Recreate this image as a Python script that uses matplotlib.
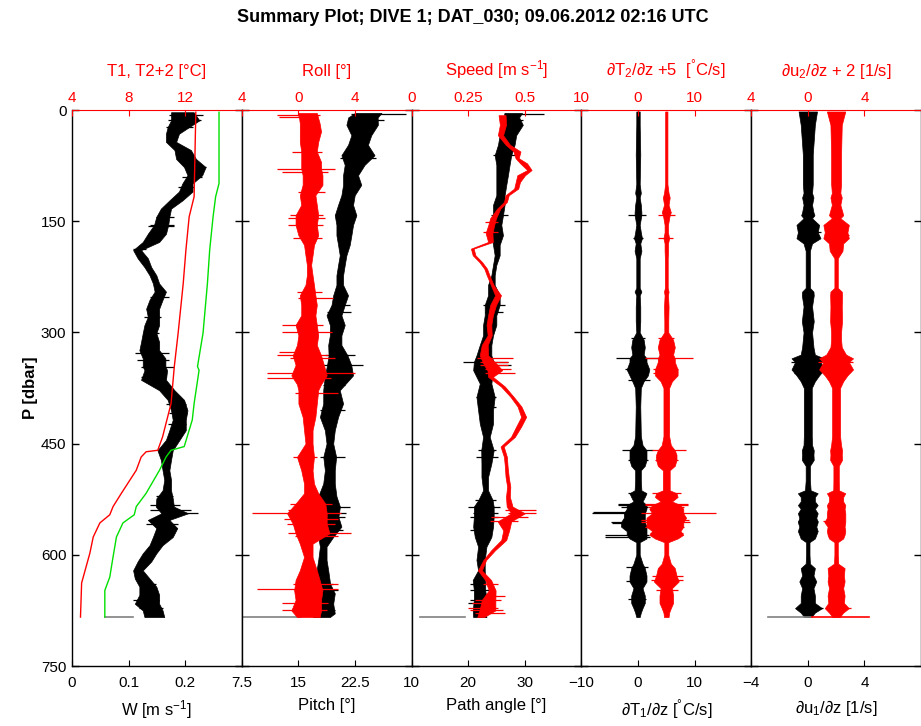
import matplotlib
matplotlib.use('Agg')
import matplotlib.pyplot as plt

plt.rcParams['font.family'] = ['Liberation Sans', 'DejaVu Sans']
plt.rcParams['mathtext.fontset'] = 'custom'
plt.rcParams['mathtext.rm'] = 'Liberation Sans'
plt.rcParams['mathtext.it'] = 'Liberation Sans:italic'
plt.rcParams['mathtext.fallback'] = 'stixsans'

TITLE = "Summary Plot; DIVE 1; DAT_030; 09.06.2012 02:16 UTC"

# ---------------- panel 1: W (bottom axis), T1 and T2+2 (top axis) ----------
P_W = [3, 14, 23, 32, 43, 54, 66, 77, 88, 99, 110, 122, 133, 144, 155, 167, 178, 189, 200, 212,
       223, 234, 245, 256, 268, 279, 290, 301, 313, 324, 335, 346, 351, 364, 378, 391, 405, 418, 432, 445,
       459, 472, 486, 499, 513, 524, 535, 544, 553, 564, 576, 587, 598, 609, 621, 632, 643, 654, 666, 675, 684]
W_lo = [0.175, 0.175, 0.169, 0.166, 0.166, 0.181, 0.184, 0.198, 0.204, 0.195,
        0.189, 0.172, 0.157, 0.149, 0.145, 0.134, 0.125, 0.108, 0.116, 0.128,
        0.137, 0.143, 0.146, 0.137, 0.131, 0.134, 0.128, 0.125, 0.122, 0.119,
        0.125, 0.125, 0.128, 0.122, 0.154, 0.169, 0.175, 0.178, 0.172, 0.166,
        0.151, 0.157, 0.160, 0.163, 0.160, 0.149, 0.148, 0.158, 0.134, 0.149,
        0.143, 0.137, 0.125, 0.116, 0.108, 0.111, 0.119, 0.119, 0.111, 0.125, 0.128]
W_hi = [0.215, 0.225, 0.207, 0.189, 0.184, 0.210, 0.219, 0.236, 0.230, 0.213,
        0.213, 0.195, 0.175, 0.172, 0.170, 0.166, 0.154, 0.122, 0.134, 0.140,
        0.149, 0.154, 0.166, 0.160, 0.154, 0.154, 0.154, 0.149, 0.154, 0.154,
        0.165, 0.165, 0.168, 0.166, 0.181, 0.198, 0.204, 0.201, 0.201, 0.190,
        0.178, 0.175, 0.172, 0.175, 0.175, 0.178, 0.180, 0.205, 0.172, 0.186,
        0.178, 0.160, 0.149, 0.140, 0.125, 0.137, 0.149, 0.154, 0.154, 0.160, 0.163]
W_spk_P = [7, 14, 23, 77, 90, 104, 144, 155, 157, 167, 187, 252, 279, 301, 328, 337, 346, 360, 396, 409,
           423, 521, 533, 540, 543, 558, 567, 639, 661, 672]
W_spk_lo = [0.172, 0.169, 0.166, 0.201, 0.195, 0.187, 0.149, 0.137, 0.134, 0.134, 0.108, 0.137, 0.128, 0.125,
            0.111, 0.114, 0.122, 0.122, 0.166, 0.172, 0.169, 0.149, 0.137, 0.137, 0.172, 0.131, 0.149, 0.119,
            0.108, 0.119]
W_spk_hi = [0.231, 0.228, 0.213, 0.236, 0.230, 0.216, 0.181, 0.181, 0.181, 0.160, 0.131, 0.172, 0.157, 0.154,
            0.172, 0.172, 0.181, 0.166, 0.201, 0.204, 0.201, 0.178, 0.190, 0.210, 0.222, 0.187, 0.181, 0.149,
            0.154, 0.160]

P_T1 = [3, 117, 144, 189, 234, 301, 346, 396, 441, 459, 461, 468, 486, 517, 535, 546, 557, 576, 598, 638, 684]
T1 = [12.75, 12.63, 12.28, 12.05, 11.86, 11.5, 11.23, 11.0, 10.4, 10.06, 9.24, 8.89, 8.54, 7.49, 6.9, 6.67,
      5.97, 5.5, 5.26, 4.68, 4.6]
P_T2 = [3, 99, 117, 144, 189, 234, 301, 346, 351, 396, 418, 454, 459, 468, 486, 517, 535, 546, 557, 576,
        603, 630, 648, 684]
T2p2 = [14.39, 14.39, 14.15, 13.97, 13.73, 13.57, 13.26, 12.87, 12.98, 12.63, 12.5, 11.93, 11.0, 10.65, 10.18,
        9.24, 8.54, 8.4, 7.6, 7.14, 6.9, 6.67, 6.32, 6.32]

# ---------------- panel 2: Pitch (bottom), Roll (top) ----------------------
P_roll = [4, 18, 29, 43, 56, 70, 79, 88, 101, 115, 128, 142, 155, 169, 182, 196, 209, 223, 236, 250,
          263, 277, 290, 304, 317, 331, 344, 358, 370, 378, 396, 414, 432, 450, 468, 486, 504, 517, 531, 544,
          558, 571, 585, 603, 621, 634, 648, 661, 675, 684]
roll_lo = [0.0, 0.1, 0.1, 0.1, 0.2, 0.2, 0.2, 0.3, 0.3, 0.1,
           0.2, -0.2, -0.2, 0.0, 0.4, 0.5, 0.6, 0.6, 0.5, 0.1,
           0.2, 0.2, -0.2, 0.0, -0.1, -0.4, -0.2, -0.5, -0.1, 0.0,
           0.0, 0.3, 0.4, 0.5, -0.1, 0.2, 0.4, 0.4, -0.2, -0.8,
           -0.4, -0.2, 0.1, 0.4, 0.1, -0.2, -0.3, -0.2, -0.5, -0.1]
roll_hi = [1.3, 1.5, 1.6, 1.4, 1.3, 1.6, 1.6, 1.7, 1.7, 1.2,
           1.3, 1.4, 1.3, 1.4, 1.1, 1.0, 0.9, 1.0, 1.1, 1.2,
           1.3, 1.2, 1.3, 1.4, 1.3, 1.6, 1.8, 2.0, 1.6, 1.4,
           1.3, 1.2, 1.0, 1.0, 1.1, 1.0, 1.1, 1.4, 1.9, 2.0,
           2.0, 2.2, 1.0, 1.0, 1.3, 1.5, 1.7, 1.6, 1.6, 1.5]
roll_spk_P = [7, 10, 56, 79, 83, 110, 142, 146, 155, 173, 245, 254, 290, 299, 326, 331, 335, 355, 362, 382,
              468, 531, 540, 544, 552, 558, 571, 575, 639, 646, 665, 674]
roll_spk_lo = [-1.52, -1.40, -0.47, -1.52, -1.17, 0.0, -0.58, -0.70, -0.70, -0.35, -0.12, 0.0, -1.17, -1.17,
               -1.40, -1.52, -0.58, -2.22, -2.2, -0.23, -0.35, -0.58, -0.70, -3.27, -1.0, -0.82, -0.70, -0.23,
               -0.35, -2.92, -1.17, -1.17]
roll_spk_hi = [1.52, 0.70, 1.64, 2.57, 2.11, 1.87, 1.75, 1.87, 1.75, 1.64, 1.64, 2.46, 1.75, 2.34, 1.40, 2.11,
               2.57, 3.98, 2.3, 2.81, 1.29, 2.34, 1.87, 3.04, 2.8, 2.57, 3.74, 2.81, 2.81, 2.81, 2.11, 1.99]

P_pitch = [4, 10, 20, 34, 47, 61, 74, 88, 101, 115, 128, 142, 155, 169, 182, 196, 209, 223, 236, 250,
           263, 277, 290, 304, 317, 331, 344, 358, 378, 396, 414, 432, 450, 468, 486, 504, 521, 535, 549, 562,
           576, 589, 607, 621, 639, 652, 666, 679, 684]
pitch_lo = [22.5, 21.6, 21.36, 22.02, 21.58, 20.70, 21.14, 20.92, 20.92, 20.70,
            20.26, 19.82, 20.04, 20.04, 20.26, 20.48, 20.26, 20.04, 20.04, 19.61,
            19.39, 18.73, 19.17, 19.17, 18.95, 19.0, 18.8, 18.51, 18.29, 18.29,
            17.85, 18.51, 18.73, 18.3, 18.51, 18.29, 17.63, 18.3, 17.2, 17.19,
            17.63, 17.85, 17.63, 17.41, 17.2, 17.19, 16.54, 16.54, 16.97]
pitch_hi = [26.0, 25.5, 25.53, 24.65, 24.21, 25.09, 23.77, 22.90, 23.33, 22.46,
            22.24, 22.68, 22.24, 22.02, 21.80, 21.36, 21.14, 20.92, 20.92, 21.58,
            21.14, 20.70, 21.14, 20.70, 20.70, 21.5, 22.0, 22.24, 20.48, 20.92,
            20.26, 19.82, 19.61, 20.0, 19.82, 19.82, 20.04, 20.5, 20.3, 20.70,
            19.61, 18.73, 18.73, 18.95, 19.2, 19.82, 19.61, 19.82, 19.17]
pitch_spk_P = [5, 14, 65, 142, 263, 272, 331, 344, 371, 405, 468, 535, 544, 549, 566, 639, 648, 666, 674]
pitch_spk_lo = [22.0, 21.58, 20.48, 19.82, 19.39, 18.73, 18.51, 18.29, 18.29, 17.85, 17.85, 18.07, 16.75,
                16.75, 17.63, 16.75, 17.19, 17.19, 16.75]
pitch_spk_hi = [29.3, 26.40, 25.31, 22.68, 21.80, 22.02, 22.46, 23.55, 21.14, 21.14, 21.14, 21.80, 21.36,
                21.14, 20.92, 19.61, 20.26, 19.61, 19.82]

# ---------------- panel 3: Path angle (bottom), Speed (top) ----------------
P_speed = [7, 20, 34, 47, 56, 65, 72, 81, 88, 97, 106, 115, 124, 133, 146, 155, 166, 178, 187, 196,
           205, 214, 223, 236, 250, 263, 277, 290, 304, 317, 331, 344, 351, 360, 373, 387, 400, 414, 427, 441,
           454, 468, 481, 495, 508, 522, 535, 544, 555, 567, 580, 594, 607, 621, 634, 648, 661, 675, 684]
speed_lo = [0.384, 0.390, 0.381, 0.416, 0.450, 0.459, 0.480, 0.511, 0.467, 0.460,
            0.453, 0.415, 0.408, 0.378, 0.347, 0.339, 0.327, 0.338, 0.262, 0.270,
            0.299, 0.321, 0.332, 0.350, 0.369, 0.347, 0.338, 0.331, 0.336, 0.310,
            0.301, 0.320, 0.335, 0.338, 0.395, 0.437, 0.468, 0.484, 0.462, 0.439,
            0.393, 0.408, 0.412, 0.415, 0.422, 0.417, 0.420, 0.440, 0.380, 0.405,
            0.396, 0.351, 0.317, 0.293, 0.325, 0.341, 0.310, 0.300, 0.290]
speed_hi = [0.415, 0.417, 0.404, 0.435, 0.481, 0.473, 0.510, 0.530, 0.501, 0.479,
            0.471, 0.429, 0.421, 0.392, 0.373, 0.365, 0.357, 0.359, 0.274, 0.282,
            0.311, 0.333, 0.344, 0.362, 0.395, 0.373, 0.359, 0.352, 0.354, 0.336,
            0.338, 0.380, 0.400, 0.359, 0.412, 0.451, 0.485, 0.506, 0.484, 0.456,
            0.407, 0.421, 0.424, 0.429, 0.436, 0.434, 0.446, 0.500, 0.440, 0.431,
            0.418, 0.368, 0.329, 0.310, 0.351, 0.371, 0.370, 0.370, 0.320]
speed_spk_P = [151, 164, 335, 340, 344, 349, 355, 540, 544, 549, 555, 639, 656, 661, 665, 672, 675, 679]
speed_spk_lo = [0.323, 0.316, 0.287, 0.301, 0.301, 0.323, 0.323, 0.411, 0.425, 0.352, 0.345, 0.316, 0.323,
                0.279, 0.265, 0.250, 0.257, 0.279]
speed_spk_hi = [0.382, 0.382, 0.447, 0.425, 0.425, 0.440, 0.455, 0.550, 0.550, 0.513, 0.469, 0.382, 0.411,
                0.396, 0.360, 0.382, 0.404, 0.411]

P_angle = [4, 10, 20, 34, 47, 61, 74, 88, 101, 115, 128, 142, 155, 169, 182, 196, 209, 223, 236, 250,
           263, 277, 290, 304, 317, 331, 340, 351, 369, 387, 405, 423, 441, 459, 477, 495, 513, 526, 535, 549,
           562, 576, 589, 607, 621, 634, 648, 661, 675, 684]
angle_lo = [26.4, 26.4, 26.14, 25.56, 25.26, 24.68, 24.97, 24.97, 24.97, 24.97,
            24.39, 24.39, 24.09, 24.09, 24.39, 24.68, 24.39, 24.09, 23.51, 23.51,
            22.92, 22.92, 22.63, 22.63, 22.05, 21.46, 21.0, 20.88, 22.05, 21.46,
            21.75, 22.05, 22.63, 22.3, 22.34, 22.34, 22.63, 21.8, 21.0, 21.0,
            20.88, 21.17, 21.75, 21.46, 21.75, 20.8, 21.0, 21.0, 20.8, 20.88]
angle_hi = [29.5, 29.0, 29.65, 28.48, 28.19, 27.60, 27.31, 27.02, 26.73, 26.43,
            26.43, 26.14, 25.85, 26.14, 25.56, 25.56, 24.97, 24.68, 24.68, 25.56,
            25.56, 24.97, 24.97, 24.39, 24.09, 24.09, 24.5, 24.39, 24.09, 24.68,
            24.39, 24.39, 23.80, 24.5, 24.09, 23.51, 23.51, 24.3, 24.5, 24.5,
            24.39, 24.09, 23.22, 22.92, 22.92, 23.0, 23.0, 23.3, 23.0, 23.22]
angle_spk_P = [5, 14, 61, 142, 263, 272, 340, 344, 387, 400, 459, 468, 526, 535, 544, 549, 566, 639, 648,
               661, 665]
angle_spk_lo = [26.4, 26.43, 24.39, 24.09, 22.63, 22.92, 19.12, 21.17, 21.46, 21.75, 21.75, 21.46, 21.17,
                20.0, 20.88, 20.29, 20.29, 20.29, 20.29, 20.29, 20.00]
angle_spk_hi = [33.4, 29.65, 28.19, 27.02, 26.43, 26.14, 27.02, 27.60, 24.97, 24.97, 24.97, 25.26, 24.97,
                25.56, 25.26, 25.26, 23.80, 23.80, 23.80, 24.09, 24.09]

# ---------------- panels 4 and 5: gradients (envelopes) ---------------------
P_grad = [2, 20, 60, 100, 112, 118, 128, 138, 142, 146, 155, 165, 173, 180, 190, 200, 240, 245, 250, 265,
          285, 300, 310, 320, 330, 335, 340, 350, 358, 366, 375, 400, 440, 452, 459, 465, 472, 480, 486, 500,
          513, 517, 522, 528, 533, 538, 544, 550, 556, 562, 568, 573, 578, 583, 600, 612, 618, 628, 636, 645,
          655, 665, 672, 678, 684]
dT1_lo = [-0.3, -0.3, -0.4, -0.3, -0.5, -0.3, -0.5, -0.6, -0.6, -0.5,
          -0.3, -0.5, -0.7, -0.4, -0.6, -0.3, -0.3, -0.6, -0.3, -0.4,
          -0.4, -0.3, -1.0, -1.2, -1.0, -1.5, -1.5, -2.0, -1.5, -1.0,
          -0.5, -0.4, -0.5, -0.8, -1.5, -1.5, -1.5, -1.2, -0.5, -0.5,
          -0.6, -1.5, -1.2, -0.8, -2.0, -2.0, -2.5, -2.5, -3.0, -3.0,
          -2.0, -2.0, -1.5, -0.3, -0.3, -0.8, -1.2, -1.5, -1.5, -0.8,
          -1.2, -1.2, -0.8, -0.5, -0.3]
dT1_hi = [0.3, 0.3, 0.4, 0.3, 0.5, 0.3, 0.5, 0.6, 0.6, 0.5,
          0.3, 0.5, 0.7, 0.4, 0.6, 0.3, 0.3, 0.6, 0.3, 0.4,
          0.4, 0.3, 1.0, 1.2, 1.0, 1.5, 1.5, 2.0, 1.75, 1.0,
          0.5, 0.4, 0.5, 0.8, 1.5, 1.5, 1.5, 1.2, 0.5, 0.5,
          0.6, 1.5, 1.2, 0.8, 1.5, 1.5, 1.2, 1.2, 1.2, 1.5,
          1.5, 1.5, 1.5, 0.3, 0.3, 0.8, 1.2, 1.5, 1.5, 0.8,
          1.2, 1.2, 0.8, 0.5, 0.3]
dT1_spk_P = [142, 173, 308, 335, 349, 364, 459, 472, 517, 531, 533, 535, 542, 544, 556, 557, 562, 573, 576,
             616, 636, 659]
dT1_spk_lo = [-1.75, -0.88, -1.17, -3.8, -2.34, -1.75, -2.9, -1.75, -1.75, -3.51, -3.5, -2.92, -7.89, -8.2,
              -4.7, -4.68, -2.63, -5.8, -5.85, -2.05, -2.05, -1.75]
dT1_spk_hi = [1.45, 0.88, 1.17, 3.5, 1.75, 2.05, 2.6, 1.75, 1.46, 1.17, 1.8, 1.75, 1.17, 1.2,
              1.2, 0.88, 2.05, 2.0, 2.05, 1.75, 1.46, 1.46]

dT2p5_lo = [4.8, 4.8, 4.8, 4.8, 4.6, 4.4, 4.6, 4.2, 4.4, 4.5,
            4.7, 4.7, 4.5, 4.7, 4.7, 4.75, 4.75, 4.6, 4.7, 4.6,
            4.65, 4.65, 3.8, 3.5, 3.8, 3.5, 3.5, 3.0, 3.0, 4.0,
            4.5, 4.5, 4.5, 4.2, 3.5, 3.2, 3.2, 3.5, 4.4, 4.4,
            4.4, 3.2, 3.0, 4.0, 2.5, 2.0, 2.5, 1.5, 1.5, 1.5,
            2.5, 2.0, 3.0, 4.65, 4.65, 4.2, 3.5, 3.2, 2.8, 4.0,
            3.8, 3.8, 4.2, 4.5, 4.6]
dT2p5_hi = [5.2, 5.2, 5.2, 5.2, 5.4, 5.6, 5.4, 5.8, 5.6, 5.5,
            5.3, 5.3, 5.5, 5.3, 5.3, 5.25, 5.25, 5.4, 5.3, 5.4,
            5.35, 5.35, 6.2, 6.5, 6.2, 6.5, 6.5, 7.0, 7.0, 6.0,
            5.5, 5.5, 5.5, 5.8, 6.5, 6.8, 6.8, 6.5, 5.6, 5.6,
            5.6, 6.8, 7.0, 6.0, 7.5, 8.0, 8.0, 8.5, 8.0, 8.0,
            7.5, 8.0, 7.0, 5.35, 5.35, 5.8, 6.5, 6.8, 7.2, 6.0,
            6.2, 6.2, 5.8, 5.5, 5.4]
dT2p5_spk_P = [142, 173, 308, 335, 349, 355, 459, 468, 472, 517, 531, 533, 535, 544, 553, 556, 562, 571,
               628, 634, 648]
dT2p5_spk_lo = [3.5, 3.5, 3.51, 1.2, 2.63, 2.63, 2.4, 3.22, 2.92, 2.4, 1.17, 1.2, 1.75, 0.6, 0.58, 0.6, 1.17,
                2.05, 2.4, 2.34, 3.22]
dT2p5_spk_hi = [6.5, 6.2, 6.43, 9.7, 7.02, 6.73, 8.5, 6.73, 7.02, 7.6, 8.77, 8.8, 8.19, 13.8, 9.06, 9.1, 8.19,
                7.89, 7.9, 7.89, 7.02]

du1_lo = [-0.65, -0.5, -0.35, -0.35, -0.3, -0.4, -0.3, -0.4, -0.47, -0.3,
          -0.8, -0.7, -0.8, -0.3, -0.15, -0.15, -0.15, -0.4, -0.42, -0.3,
          -0.42, -0.3, -0.35, -0.4, -0.5, -1.15, -0.9, -1.15, -0.8, -0.5,
          -0.28, -0.28, -0.28, -0.3, -0.42, -0.4, -0.42, -0.15, -0.15, -0.15,
          -0.2, -0.7, -0.5, -0.5, -0.7, -0.5, -0.7, -0.6, -0.7, -0.6,
          -0.7, -0.6, -0.5, -0.12, -0.12, -0.15, -0.5, -0.4, -0.6, -0.4,
          -0.5, -0.5, -0.9, -0.5, -0.25]
du1_hi = [0.65, 0.5, 0.35, 0.35, 0.3, 0.4, 0.3, 0.4, 0.47, 0.3,
          0.8, 0.7, 0.9, 0.3, 0.15, 0.15, 0.15, 0.4, 0.42, 0.3,
          0.42, 0.3, 0.35, 0.4, 0.5, 1.15, 0.9, 1.15, 0.8, 0.5,
          0.28, 0.28, 0.28, 0.3, 0.42, 0.4, 0.42, 0.15, 0.15, 0.15,
          0.2, 0.7, 0.5, 0.5, 0.7, 0.5, 0.7, 0.6, 0.7, 0.6,
          0.7, 0.6, 0.5, 0.12, 0.12, 0.15, 0.5, 0.4, 0.6, 0.4,
          0.5, 0.5, 1.0, 0.5, 0.25]
du1_spk_P = [164, 340, 355, 555, 672]
du1_spk_lo = [-0.70, -1.17, -0.94, -0.70, -0.70]
du1_spk_hi = [0.94, 1.17, 0.70, 0.70, 1.05]

du2p2_lo = [1.35, 1.6, 1.65, 1.65, 1.7, 1.6, 1.7, 1.55, 1.5, 1.7,
            1.1, 1.2, 1.1, 1.5, 1.55, 1.88, 1.88, 1.6, 1.58, 1.6,
            1.58, 1.65, 1.65, 1.6, 1.3, 0.8, 1.1, 0.8, 1.2, 1.5,
            1.72, 1.72, 1.72, 1.65, 1.58, 1.6, 1.58, 1.81, 1.81, 1.81,
            1.8, 1.35, 1.5, 1.5, 1.35, 1.4, 1.35, 1.35, 1.17, 1.4,
            1.35, 1.4, 1.5, 1.88, 1.88, 1.85, 1.4, 1.45, 1.4, 1.5,
            1.4, 1.45, 1.2, 1.5, 1.75]
du2p2_hi = [2.65, 2.4, 2.35, 2.35, 2.3, 2.4, 2.3, 2.45, 2.5, 2.3,
            2.9, 2.8, 2.9, 2.5, 2.45, 2.12, 2.12, 2.4, 2.42, 2.4,
            2.42, 2.35, 2.35, 2.4, 2.7, 3.2, 2.9, 3.2, 2.8, 2.5,
            2.28, 2.28, 2.28, 2.35, 2.42, 2.4, 2.42, 2.19, 2.19, 2.19,
            2.2, 2.65, 2.5, 2.5, 2.65, 2.6, 2.65, 2.65, 2.65, 2.6,
            2.65, 2.6, 2.5, 2.12, 2.12, 2.15, 2.6, 2.55, 2.6, 2.5,
            2.6, 2.55, 2.9, 2.5, 2.25]
du2p2_spk_P = [169, 340, 555, 672]
du2p2_spk_lo = [1.29, 0.70, 1.05, 1.40]
du2p2_spk_hi = [2.92, 3.16, 2.57, 3.04]

# final sample (end of profile) values
P_end = 684
W_end = [0.058, 0.108]
pitch_end = [7.5, 15.4]
angle_end = [11.5, 19.4]
du1_end = [-2.8, 0.2]
du2p2_end = [0.3, 4.3]

# ---------------- axes definitions ----------------
bottom_lims = [(0, 0.3), (7.5, 30), (10, 40), (-10, 20), (-4, 8)]
bottom_ticks = [[0, 0.1, 0.2], [7.5, 15, 22.5], [10, 20, 30], [-10, 0, 10], [-4, 0, 4]]
bottom_ticklabels = [['0', '0.1', '0.2'], ['7.5', '15', '22.5'], ['10', '20', '30'],
                     ['\u221210', '0', '10'], ['\u22124', '0', '4']]
bottom_labels = ['W [m s$^{-1}$]', 'Pitch [\u00b0]', 'Path angle [\u00b0]',
                 '\u2202T$_1$/\u2202z [$^{\u00b0}$C/s]', '\u2202u$_1$/\u2202z [1/s]']
top_lims = [(4, 16), (-4, 8), (0, 0.75), (-10, 20), (-4, 8)]
top_ticks = [[4, 8, 12], [-4, 0, 4], [0, 0.25, 0.5], [-10, 0, 10], [-4, 0, 4]]
top_ticklabels = [['4', '8', '12'], ['4', '0', '4'], ['0', '0.25', '0.5'], ['10', '0', '10'], ['4', '0', '4']]
top_labels = ['T1, T2+2 [\u00b0C]', 'Roll [\u00b0]', 'Speed [m s$^{-1}$]',
              '\u2202T$_2$/\u2202z +5  [$^{\u00b0}$C/s]', '\u2202u$_2$/\u2202z + 2 [1/s]']
P_ticks = [0, 150, 300, 450, 600, 750]

FW, FH = 921, 726
left0, pw, top_px, bot_px = 72, 169.8, 110, 666
RED = '#ff0000'
GREEN = '#00e000'

fig = plt.figure(figsize=(FW / 100, FH / 100), dpi=100)
axes, taxes = [], []
for i in range(5):
    ax = fig.add_axes([(left0 + i * pw) / FW, 1 - bot_px / FH, pw / FW, (bot_px - top_px) / FH])
    ax.set_ylim(750, 0)
    ax.set_xlim(*bottom_lims[i])
    ax.set_xticks(bottom_ticks[i])
    ax.set_xticklabels(bottom_ticklabels[i], fontsize=11)
    ax.set_yticks(P_ticks)
    if i == 0:
        ax.set_yticklabels([str(p) for p in P_ticks], fontsize=11)
        ax.set_ylabel('P [dbar]', fontsize=12, fontweight='bold', labelpad=2)
    else:
        ax.set_yticklabels([])
    ax.tick_params(axis='y', direction='in', left=True, right=True, length=5, pad=4, width=1)
    ax.tick_params(axis='x', direction='in', bottom=True, top=False, length=4, pad=7, width=0.8)
    ax.set_xlabel(bottom_labels[i], fontsize=12, labelpad=6)
    for s in ['left', 'right', 'bottom']:
        ax.spines[s].set_linewidth(1.0)
    ax.spines['top'].set_visible(False)
    tax = ax.twiny()
    tax.set_xlim(*top_lims[i])
    tax.set_xticks(top_ticks[i])
    tax.set_xticklabels(top_ticklabels[i], fontsize=11, color=RED)
    tax.tick_params(axis='x', direction='in', top=True, length=4, pad=3.5, colors=RED, width=0.8)
    tax.set_xlabel(top_labels[i], fontsize=12, color=RED, labelpad=11)
    tax.spines['top'].set_color(RED)
    for s in ['left', 'right', 'bottom']:
        tax.spines[s].set_visible(False)
    axes.append(ax)
    taxes.append(tax)

ekw = dict(lw=0.5)
skw = dict(lw=0.9)
# panel 1
axes[0].fill_betweenx(P_W, W_lo, W_hi, color='k', **ekw)
axes[0].hlines(W_spk_P, W_spk_lo, W_spk_hi, color='k', **skw)
axes[0].plot(W_end, [P_end, P_end], color='0.5', lw=1.2)
taxes[0].plot(T2p2, P_T2, color=GREEN, lw=1.0)
taxes[0].plot(T1, P_T1, color=RED, lw=1.0)
# panel 2
axes[1].fill_betweenx(P_pitch, pitch_lo, pitch_hi, color='k', **ekw)
axes[1].hlines(pitch_spk_P, pitch_spk_lo, pitch_spk_hi, color='k', **skw)
axes[1].plot(pitch_end, [P_end, P_end], color='0.5', lw=1.2)
taxes[1].fill_betweenx(P_roll, roll_lo, roll_hi, color=RED, **ekw)
taxes[1].hlines(roll_spk_P, roll_spk_lo, roll_spk_hi, color=RED, **skw)
# panel 3
axes[2].fill_betweenx(P_angle, angle_lo, angle_hi, color='k', **ekw)
axes[2].hlines(angle_spk_P, angle_spk_lo, angle_spk_hi, color='k', **skw)
axes[2].plot(angle_end, [P_end, P_end], color='0.5', lw=1.2)
taxes[2].fill_betweenx(P_speed, speed_lo, speed_hi, color=RED, **ekw)
taxes[2].hlines(speed_spk_P, speed_spk_lo, speed_spk_hi, color=RED, **skw)
# panel 4
axes[3].fill_betweenx(P_grad, dT1_lo, dT1_hi, color='k', **ekw)
axes[3].hlines(dT1_spk_P, dT1_spk_lo, dT1_spk_hi, color='k', **skw)
taxes[3].fill_betweenx(P_grad, dT2p5_lo, dT2p5_hi, color=RED, **ekw)
taxes[3].hlines(dT2p5_spk_P, dT2p5_spk_lo, dT2p5_spk_hi, color=RED, **skw)
# panel 5
taxes[4].plot(du2p2_end, [P_end, P_end], color=RED, lw=1.2)
axes[4].fill_betweenx(P_grad, du1_lo, du1_hi, color='k', **ekw)
axes[4].hlines(du1_spk_P, du1_spk_lo, du1_spk_hi, color='k', **skw)
axes[4].plot(du1_end, [P_end, P_end], color='0.5', lw=1.2)
taxes[4].fill_betweenx(P_grad, du2p2_lo, du2p2_hi, color=RED, **ekw)
taxes[4].hlines(du2p2_spk_P, du2p2_spk_lo, du2p2_spk_hi, color=RED, **skw)

for tax in taxes:
    tax.set_ylim(750, 0)

fig.text(473 / FW, 1 - 18 / FH, TITLE, ha='center', va='center', fontsize=13, fontweight='bold')

fig.savefig('out.png', dpi=100)
